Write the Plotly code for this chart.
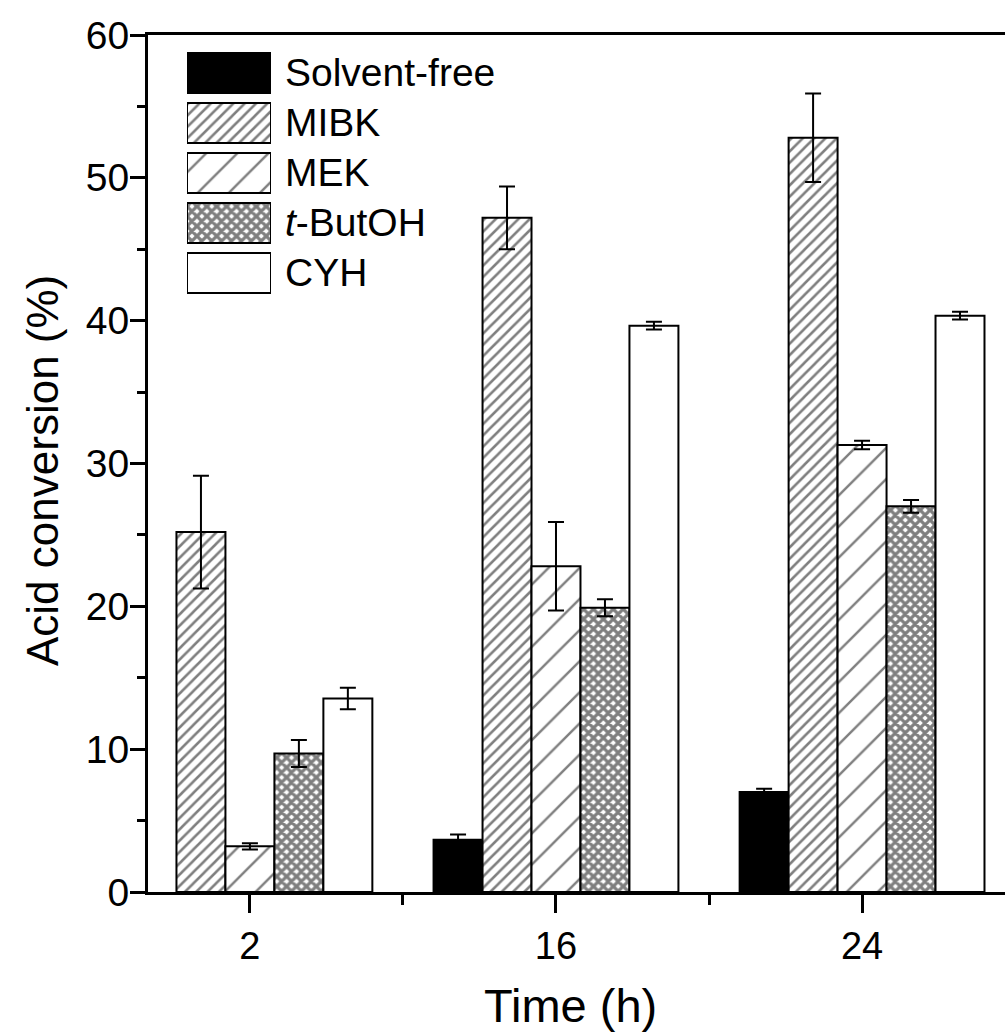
import plotly.graph_objects as go

# ---- data ----
time_labels = ["2", "16", "24"]
series_names = ["Solvent-free", "MIBK", "MEK", "t-ButOH", "CYH"]
solvent_free = [None, 3.65, 7.0]
mibk = [25.2, 47.2, 52.8]
mek = [3.2, 22.8, 31.3]
tbutoh = [9.7, 19.9, 27.0]
cyh = [13.55, 39.65, 40.35]
err_solvent_free = [0, 0.37, 0.22]
err_mibk = [3.95, 2.2, 3.1]
err_mek = [0.22, 3.1, 0.3]
err_tbutoh = [0.95, 0.6, 0.45]
err_cyh = [0.75, 0.27, 0.27]

values = [solvent_free, mibk, mek, tbutoh, cyh]
errors = [err_solvent_free, err_mibk, err_mek, err_tbutoh, err_cyh]

FONT = "Arial, Liberation Sans, sans-serif"
W, H = 1005, 1034
L, R, T, B = 148, 0, 35, 142
PW, PH = W - L - R, H - T - B

styles = [
    dict(color="black", pattern=None),
    dict(color="white", pattern=dict(shape="/", size=8, solidity=0.32, fgcolor="black", bgcolor="white")),
    dict(color="white", pattern=dict(shape="/", size=22, solidity=0.11, fgcolor="black", bgcolor="white")),
    dict(color="white", pattern=dict(shape="x", size=7, solidity=0.72, fgcolor="black", bgcolor="white")),
    dict(color="white", pattern=None),
]

xpos = list(range(len(time_labels)))
fig = go.Figure()
for name, vals, errs, st in zip(series_names, values, errors, styles):
    marker = dict(color=st["color"], line=dict(color="black", width=2))
    if st["pattern"]:
        marker["pattern"] = st["pattern"]
    fig.add_trace(go.Bar(
        x=xpos, y=vals, name=name, marker=marker, showlegend=False,
        error_y=dict(type="data", array=errs, color="black", thickness=2, width=8, visible=True),
        xaxis="x", yaxis="y",
    ))

# legend swatches on an overlay axis
for i, (name, st) in enumerate(zip(series_names, styles)):
    marker = dict(color=st["color"], line=dict(color="black", width=2))
    if st["pattern"]:
        marker["pattern"] = st["pattern"]
    fig.add_trace(go.Bar(
        x=[1], y=[i], base=[0], orientation="h", width=0.8, marker=marker,
        showlegend=False, xaxis="x2", yaxis="y2", hoverinfo="skip",
    ))
    label = "<i>t</i>-ButOH" if name == "t-ButOH" else name
    fig.add_annotation(x=(283 - L) / PW, xref="paper", y=i, yref="y2", text=label,
                       showarrow=False, xanchor="left", yanchor="middle",
                       font=dict(family=FONT, size=39, color="black"))

def px_to_py(p):
    return (H - B - p) / PH

fig.update_layout(
    width=W, height=H,
    margin=dict(l=L, r=R, t=T, b=B, pad=0),
    paper_bgcolor="white", plot_bgcolor="white",
    barmode="group", bargap=0.2, bargroupgap=0,
    showlegend=False,
    font=dict(family=FONT, size=38, color="black"),
    xaxis=dict(
        range=[-0.333, 2.467], tickmode="array", tickvals=xpos, ticktext=time_labels,
        showline=True, linecolor="black", linewidth=3, mirror=True,
        ticks="outside", ticklen=18, tickwidth=3, tickcolor="black",
        minor=dict(tickmode="array", tickvals=[0.5, 1.5], ticks="outside", ticklen=10, tickwidth=3, tickcolor="black"),
        showgrid=False, zeroline=False,
        tickfont=dict(family=FONT, size=38, color="black"),
    ),
    yaxis=dict(
        range=[0, 60], tickmode="linear", tick0=0, dtick=10,
        showline=True, linecolor="black", linewidth=3, mirror=False,
        ticks="outside", ticklen=15, tickwidth=3, tickcolor="black",
        minor=dict(dtick=5, ticks="outside", ticklen=8, tickwidth=3, tickcolor="black"),
        showgrid=False, zeroline=False, ticklabelstandoff=-7,
        tickfont=dict(family=FONT, size=39, color="black"),
    ),
    xaxis2=dict(domain=[(187 - L) / PW, (271 - L) / PW], range=[0, 1], anchor="y2",
                visible=False, fixedrange=True),
    yaxis2=dict(domain=[px_to_py(298), px_to_py(48)], range=[4.5, -0.5], anchor="x2",
                visible=False, fixedrange=True),
)

fig.add_annotation(x=(570 - L) / PW, xref="paper", y=px_to_py(1005), yref="paper",
                   text="Time (h)", showarrow=False, xanchor="center", yanchor="middle",
                   font=dict(family=FONT, size=47, color="black"))
fig.add_annotation(x=(42 - L) / PW, xref="paper", y=px_to_py(471), yref="paper",
                   text="Acid conversion (%)", showarrow=False, textangle=-90,
                   xanchor="center", yanchor="middle",
                   font=dict(family=FONT, size=44, color="black"))

fig.write_html("out.html")
